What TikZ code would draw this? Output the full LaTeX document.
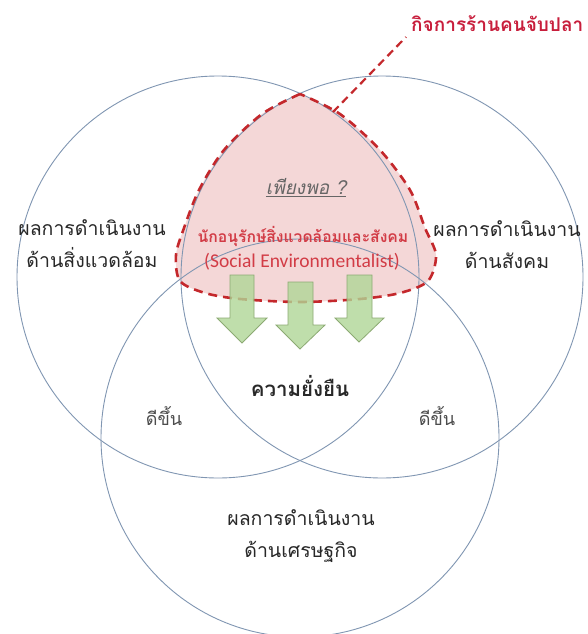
\documentclass[tikz,border=0pt]{standalone}
\usepackage{fontspec}
\newfontfamily\thai[Script=Thai]{Loma}
\newfontfamily\lat{Carlito}
\definecolor{ringc}{RGB}{128,150,178}
\definecolor{pinkf}{RGB}{243,208,208}
\definecolor{dashr}{RGB}{196,40,44}
\definecolor{titler}{RGB}{200,30,60}
\definecolor{redtxt}{RGB}{210,60,70}
\definecolor{txt}{RGB}{40,40,40}
\definecolor{grn}{RGB}{176,214,150}
\definecolor{grnb}{RGB}{140,170,115}
\tikzset{
  ring/.style={draw=ringc, line width=0.9pt},
  lbl/.style={text=txt, font=\thai\fontsize{19.5}{32}\selectfont, align=center, inner sep=0pt},
  blockarrow/.style={draw=grnb, fill=grn, fill opacity=0.8, line width=0.8pt, line join=miter},
  reddash/.style={draw=dashr, line width=2.6pt, dash pattern=on 9pt off 6pt},
}
\begin{document}
\begin{tikzpicture}[x=1pt,y=-1pt]
\useasboundingbox[fill=white] (0,0) rectangle (588,634);
% pink region
\path[fill=pinkf, fill opacity=0.85] plot[smooth] coordinates {(300,94) (262,114) (224,150) (199,190) (184,228) (176,255) (180,281) (205,293) (240,299) (300,302) (360,299) (400,293) (428,281) (436,255) (425,228) (410,190) (380,150) (340,114) (300,94)} -- cycle;
% circles
\draw[ring] (218,277) circle[radius=201pt];
\draw[ring] (382,277) circle[radius=201pt];
\draw[ring] (300,438) circle[radius=199pt];
% dashed outline
\draw[reddash] plot[smooth] coordinates {(300,94) (262,114) (224,150) (199,190) (184,228) (176,255) (180,281) (205,293) (240,299) (300,302) (360,299) (400,293) (428,281) (436,255) (425,228) (410,190) (380,150) (340,114) (300,94)};
% block arrows
\draw[blockarrow] (230,275) -- (254,275) -- (254,318) -- (267,318) -- (242,343) -- (217,318) -- (230,318) -- cycle;
\draw[blockarrow] (288,282) -- (313,282) -- (313,325) -- (325,325) -- (300,349) -- (276,325) -- (288,325) -- cycle;
\draw[blockarrow] (347,275) -- (372,275) -- (372,318) -- (384,318) -- (359,342) -- (335,318) -- (347,318) -- cycle;
% leader
\coordinate (tip) at (333,112);
\coordinate (lead) at (406,37);
\draw[reddash, line width=2.2pt, dash pattern=on 8pt off 5pt] (tip) -- (lead);
\node[anchor=west, text=titler, font=\thai\bfseries\fontsize{19}{22}\selectfont, inner sep=0pt] (title) at (411,24) {กิจการร้านคนจับปลา};
% labels
\node[lbl] (env) at (92,244) {ผลการดำเนินงาน\\ด้านสิ่งแวดล้อม};
\node[lbl] (soc) at (507,245) {ผลการดำเนินงาน\\ด้านสังคม};
\node[lbl] (eco) at (301,536) {ผลการดำเนินงาน\\ด้านเศรษฐกิจ};
\node[lbl, font=\thai\bfseries\fontsize{20.5}{24}\selectfont] (sus) at (300,386) {ความยั่งยืน};
\node[lbl, text=black!70, font=\thai\fontsize{18}{20}\selectfont] (b1) at (164,416) {ดีขึ้น};
\node[lbl, text=black!70, font=\thai\fontsize{18}{20}\selectfont] (b2) at (437,416) {ดีขึ้น};
\node[lbl, text=black!60, font=\thai\itshape\fontsize{19}{22}\selectfont] (enough) at (306,188) {\underline{เพียงพอ ?}};
\node[lbl, text=redtxt, font=\thai\bfseries\fontsize{15.7}{18}\selectfont] (se1) at (303,236) {นักอนุรักษ์สิ่งแวดล้อมและสังคม};
\node[lbl, text=redtxt, font=\lat\fontsize{19.5}{22}\selectfont] (se2) at (302,262) {(Social Environmentalist)};
\end{tikzpicture}
\end{document}
